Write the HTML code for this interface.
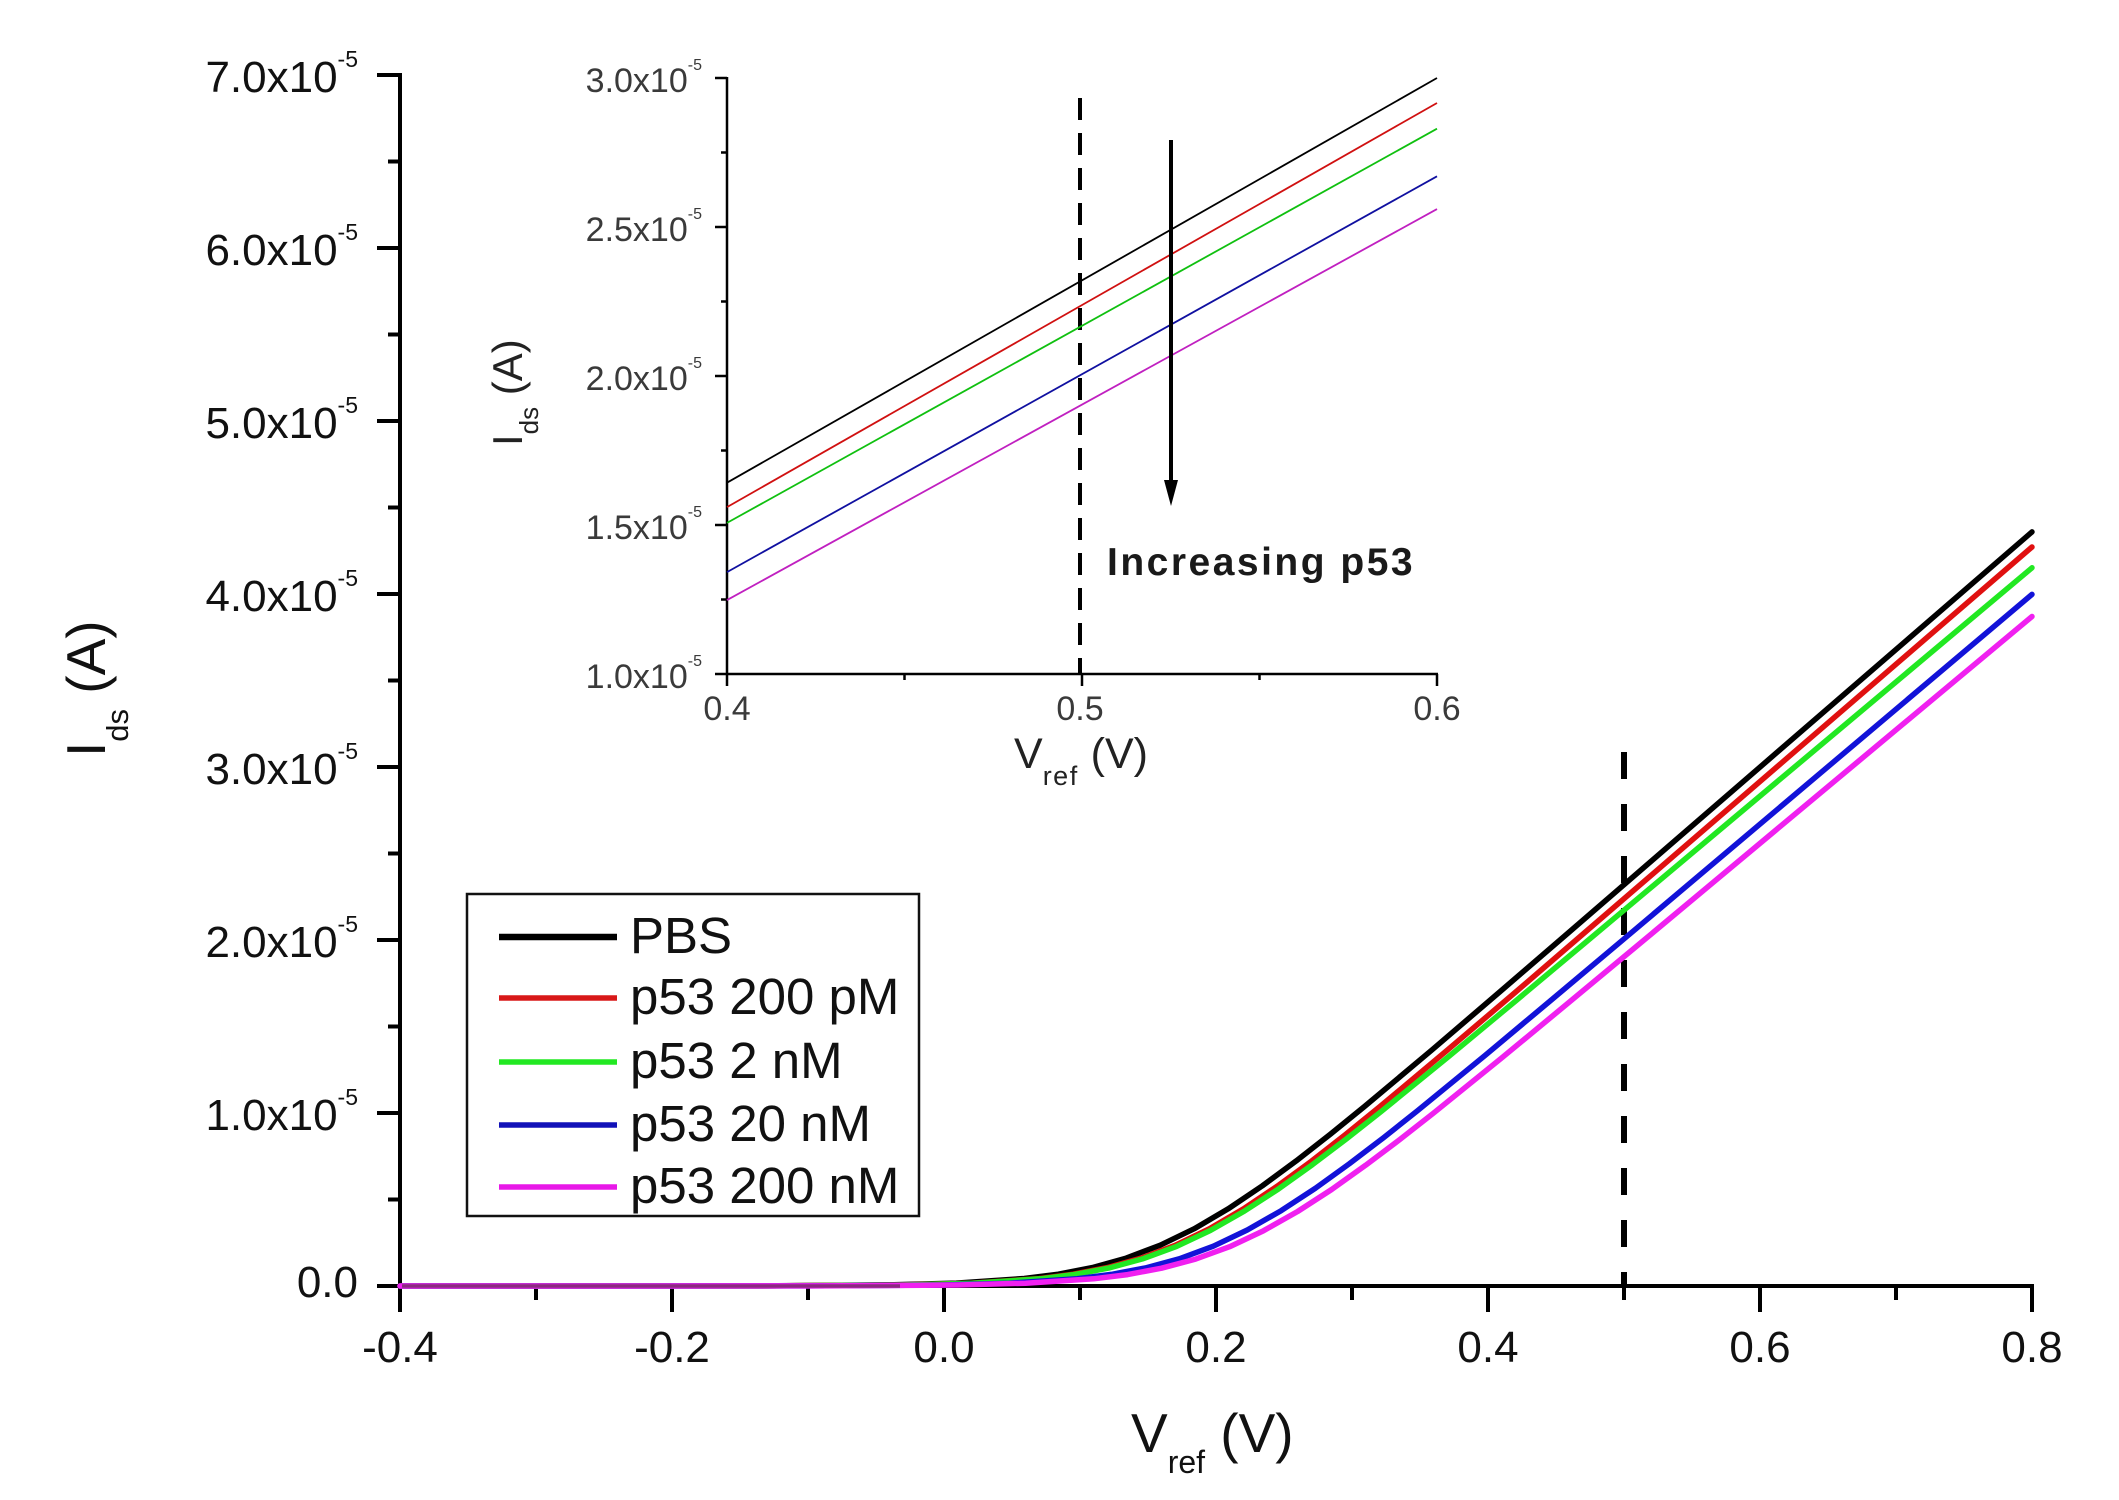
<!DOCTYPE html>
<html><head><meta charset="utf-8"><style>
html,body{margin:0;padding:0;background:#fff;}
svg{display:block;}
text{font-family:"Liberation Sans",Arial,sans-serif;}
</style></head><body>
<svg width="2119" height="1500" viewBox="0 0 2119 1500" xmlns="http://www.w3.org/2000/svg">
<rect width="2119" height="1500" fill="#fff"/>

<!-- ===== MAIN AXES ===== -->
<g stroke="#000" stroke-width="4" fill="none">
  <line x1="400" y1="73" x2="400" y2="1312"/>
  <line x1="398" y1="1286" x2="2034" y2="1286"/>
  <!-- y major ticks -->
  <line x1="377" y1="75" x2="400" y2="75"/>
  <line x1="377" y1="248" x2="400" y2="248"/>
  <line x1="377" y1="421" x2="400" y2="421"/>
  <line x1="377" y1="594" x2="400" y2="594"/>
  <line x1="377" y1="767" x2="400" y2="767"/>
  <line x1="377" y1="940" x2="400" y2="940"/>
  <line x1="377" y1="1113" x2="400" y2="1113"/>
  <line x1="377" y1="1286" x2="400" y2="1286"/>
  <!-- y minor ticks -->
  <line x1="388" y1="161.5" x2="400" y2="161.5"/>
  <line x1="388" y1="334.5" x2="400" y2="334.5"/>
  <line x1="388" y1="507.5" x2="400" y2="507.5"/>
  <line x1="388" y1="680.5" x2="400" y2="680.5"/>
  <line x1="388" y1="853.5" x2="400" y2="853.5"/>
  <line x1="388" y1="1026.5" x2="400" y2="1026.5"/>
  <line x1="388" y1="1199.5" x2="400" y2="1199.5"/>
  <!-- x major ticks -->
  <line x1="672" y1="1286" x2="672" y2="1312"/>
  <line x1="944" y1="1286" x2="944" y2="1312"/>
  <line x1="1216" y1="1286" x2="1216" y2="1312"/>
  <line x1="1488" y1="1286" x2="1488" y2="1312"/>
  <line x1="1760" y1="1286" x2="1760" y2="1312"/>
  <line x1="2032" y1="1286" x2="2032" y2="1312"/>
  <!-- x minor ticks -->
  <line x1="536" y1="1286" x2="536" y2="1300"/>
  <line x1="808" y1="1286" x2="808" y2="1300"/>
  <line x1="1080" y1="1286" x2="1080" y2="1300"/>
  <line x1="1352" y1="1286" x2="1352" y2="1300"/>
  <line x1="1624" y1="1286" x2="1624" y2="1300"/>
  <line x1="1896" y1="1286" x2="1896" y2="1300"/>
</g>

<!-- y tick labels -->
<g font-size="44" fill="#111" text-anchor="end">
  <text x="358" y="92">7.0x10<tspan font-size="23" dy="-25">-5</tspan></text>
  <text x="358" y="265">6.0x10<tspan font-size="23" dy="-25">-5</tspan></text>
  <text x="358" y="438">5.0x10<tspan font-size="23" dy="-25">-5</tspan></text>
  <text x="358" y="611">4.0x10<tspan font-size="23" dy="-25">-5</tspan></text>
  <text x="358" y="784">3.0x10<tspan font-size="23" dy="-25">-5</tspan></text>
  <text x="358" y="957">2.0x10<tspan font-size="23" dy="-25">-5</tspan></text>
  <text x="358" y="1130">1.0x10<tspan font-size="23" dy="-25">-5</tspan></text>
  <text x="358" y="1297">0.0</text>
</g>
<!-- x tick labels -->
<g font-size="44" fill="#111" text-anchor="middle">
  <text x="400" y="1362">-0.4</text>
  <text x="672" y="1362">-0.2</text>
  <text x="944" y="1362">0.0</text>
  <text x="1216" y="1362">0.2</text>
  <text x="1488" y="1362">0.4</text>
  <text x="1760" y="1362">0.6</text>
  <text x="2032" y="1362">0.8</text>
</g>

<!-- axis titles -->
<text x="1131" y="1452" font-size="55" fill="#111">V<tspan font-size="32" dy="21">ref</tspan><tspan dy="-21"> (V)</tspan></text>
<text transform="translate(105,757) rotate(-90)" font-size="55" fill="#111">I<tspan font-size="31" dy="23">ds</tspan><tspan dy="-23"> (A)</tspan></text>

<!-- main dashed line -->
<line x1="1624" y1="752" x2="1624" y2="1286" stroke="#000" stroke-width="6" stroke-dasharray="27 25"/>

<!-- main curves -->
<g transform="translate(400,0) scale(0.995122,1) translate(-400,0)" fill="none" stroke-width="5.5" stroke-linejoin="round" stroke-linecap="round">
<polyline stroke="#000" points="400,1286 754,1285.9 890.6,1284.9 959,1283.1 1027.3,1278.5 1061.5,1274.2 1095.6,1267.6 1129.8,1258.1 1164,1245.2 1198.2,1228.7 1232.3,1208.8 1266.5,1185.9 1300.6,1160.9 1334.8,1134.3 1369,1106.7 1437.3,1049.7 1505.6,991.5 1574,932.9 2040,531.9"/>
<polyline stroke="#e01010" points="400,1286 769,1285.9 905.7,1284.9 974,1283.2 1042.3,1278.6 1076.5,1274.2 1110.7,1267.6 1144.8,1258.2 1179,1245.3 1213.2,1228.9 1247.3,1209 1281.5,1186.2 1315.7,1161.3 1349.8,1134.8 1384,1107.2 1452.3,1050.3 1520.7,992.4 1589,933.9 2040,547"/>
<polyline stroke="#22e822" points="400,1286 770.4,1285.9 907,1285 975.4,1283.2 1043.7,1278.8 1077.9,1274.5 1112,1268.1 1146.2,1258.9 1180.4,1246.4 1214.5,1230.4 1248.7,1211 1282.9,1188.9 1317,1164.6 1351.2,1138.8 1385.4,1112 1453.7,1056.6 1522,1000.2 1590.4,943.3 2040,567.8"/>
<polyline stroke="#1212d8" points="400,1286 807.3,1285.9 944,1285 1012.3,1283.2 1080.6,1278.7 1114.8,1274.4 1148.9,1268 1183.1,1258.8 1217.3,1246.2 1251.4,1230 1285.6,1210.6 1319.8,1188.3 1353.9,1163.8 1388.1,1137.9 1422.3,1110.9 1490.6,1055.2 1558.9,998.4 1627.3,941.2 2040,594.4"/>
<polyline stroke="#f020f0" points="400,1286 823.7,1285.9 960.4,1285 1028.7,1283.2 1097,1278.8 1131.2,1274.6 1165.3,1268.2 1199.5,1259.1 1233.7,1246.7 1267.8,1230.7 1302,1211.5 1336.2,1189.5 1370.3,1165.3 1404.5,1139.7 1438.7,1113 1507,1058 1575.3,1001.9 1643.7,945.4 2040,616.5"/>
</g>
<line x1="402" y1="1286" x2="900" y2="1286" stroke="#8a2a80" stroke-width="3.5"/>

<!-- legend -->
<rect x="467" y="894" width="452" height="322" fill="#fff" stroke="#111" stroke-width="2.5"/>
<g stroke-width="5.5">
  <line x1="499" y1="937" x2="617" y2="937" stroke="#000" stroke-width="6.5"/>
  <line x1="499" y1="998" x2="617" y2="998" stroke="#d81818"/>
  <line x1="499" y1="1062" x2="617" y2="1062" stroke="#22e822"/>
  <line x1="499" y1="1125" x2="617" y2="1125" stroke="#1212b8"/>
  <line x1="499" y1="1187" x2="617" y2="1187" stroke="#e818e8"/>
</g>
<g font-size="51" fill="#111">
  <text x="630" y="953">PBS</text>
  <text x="630" y="1014">p53 200 pM</text>
  <text x="630" y="1078">p53 2 nM</text>
  <text x="630" y="1141">p53 20 nM</text>
  <text x="630" y="1203">p53 200 nM</text>
</g>

<!-- ===== INSET ===== -->
<g stroke="#000" stroke-width="2.5" fill="none">
  <line x1="727" y1="77" x2="727" y2="686"/>
  <line x1="726" y1="674" x2="1438" y2="674"/>
  <line x1="715" y1="78" x2="727" y2="78"/>
  <line x1="715" y1="227" x2="727" y2="227"/>
  <line x1="715" y1="376" x2="727" y2="376"/>
  <line x1="715" y1="525" x2="727" y2="525"/>
  <line x1="715" y1="674" x2="727" y2="674"/>
  <line x1="721" y1="152.5" x2="727" y2="152.5"/>
  <line x1="721" y1="301.5" x2="727" y2="301.5"/>
  <line x1="721" y1="450.5" x2="727" y2="450.5"/>
  <line x1="721" y1="599.5" x2="727" y2="599.5"/>
  <line x1="1082" y1="674" x2="1082" y2="686"/>
  <line x1="1437" y1="674" x2="1437" y2="686"/>
  <line x1="904.5" y1="674" x2="904.5" y2="680"/>
  <line x1="1259.5" y1="674" x2="1259.5" y2="680"/>
</g>
<g font-size="34" fill="#3a3a3a" text-anchor="end">
  <text x="702" y="92">3.0x10<tspan font-size="16" dy="-22">-5</tspan></text>
  <text x="702" y="241">2.5x10<tspan font-size="16" dy="-22">-5</tspan></text>
  <text x="702" y="390">2.0x10<tspan font-size="16" dy="-22">-5</tspan></text>
  <text x="702" y="539">1.5x10<tspan font-size="16" dy="-22">-5</tspan></text>
  <text x="702" y="688">1.0x10<tspan font-size="16" dy="-22">-5</tspan></text>
</g>
<g font-size="34" fill="#3a3a3a" text-anchor="middle">
  <text x="727" y="720">0.4</text>
  <text x="1080" y="720">0.5</text>
  <text x="1437" y="720">0.6</text>
</g>
<text x="1014" y="768" font-size="43" fill="#222">V<tspan font-size="27" dy="17" letter-spacing="1.5">ref</tspan><tspan dy="-17"> (V)</tspan></text>
<text transform="translate(522,446) rotate(-90)" font-size="42" fill="#222">I<tspan font-size="26" dy="16">ds</tspan><tspan dy="-16"> (A)</tspan></text>

<!-- inset dashed -->
<line x1="1080" y1="98" x2="1080" y2="674" stroke="#000" stroke-width="4" stroke-dasharray="22 13"/>

<!-- inset curves -->
<g stroke-width="1.8" fill="none">
  <line x1="727" y1="482.7" x2="1437" y2="78" stroke="#000"/>
  <line x1="727" y1="507.1" x2="1437" y2="103" stroke="#d01010"/>
  <line x1="727" y1="522.9" x2="1437" y2="128.7" stroke="#10c010"/>
  <line x1="727" y1="572.1" x2="1437" y2="176.3" stroke="#1010a0"/>
  <line x1="727" y1="600.1" x2="1437" y2="209.1" stroke="#c020c0"/>
</g>

<!-- arrow -->
<line x1="1171" y1="140" x2="1171" y2="484" stroke="#000" stroke-width="4"/>
<polygon points="1164,480 1178,480 1171,506" fill="#000"/>
<text x="1107" y="575" font-size="39" font-weight="bold" letter-spacing="2.5" fill="#1a1a1a">Increasing p53</text>
</svg>
</body></html>
